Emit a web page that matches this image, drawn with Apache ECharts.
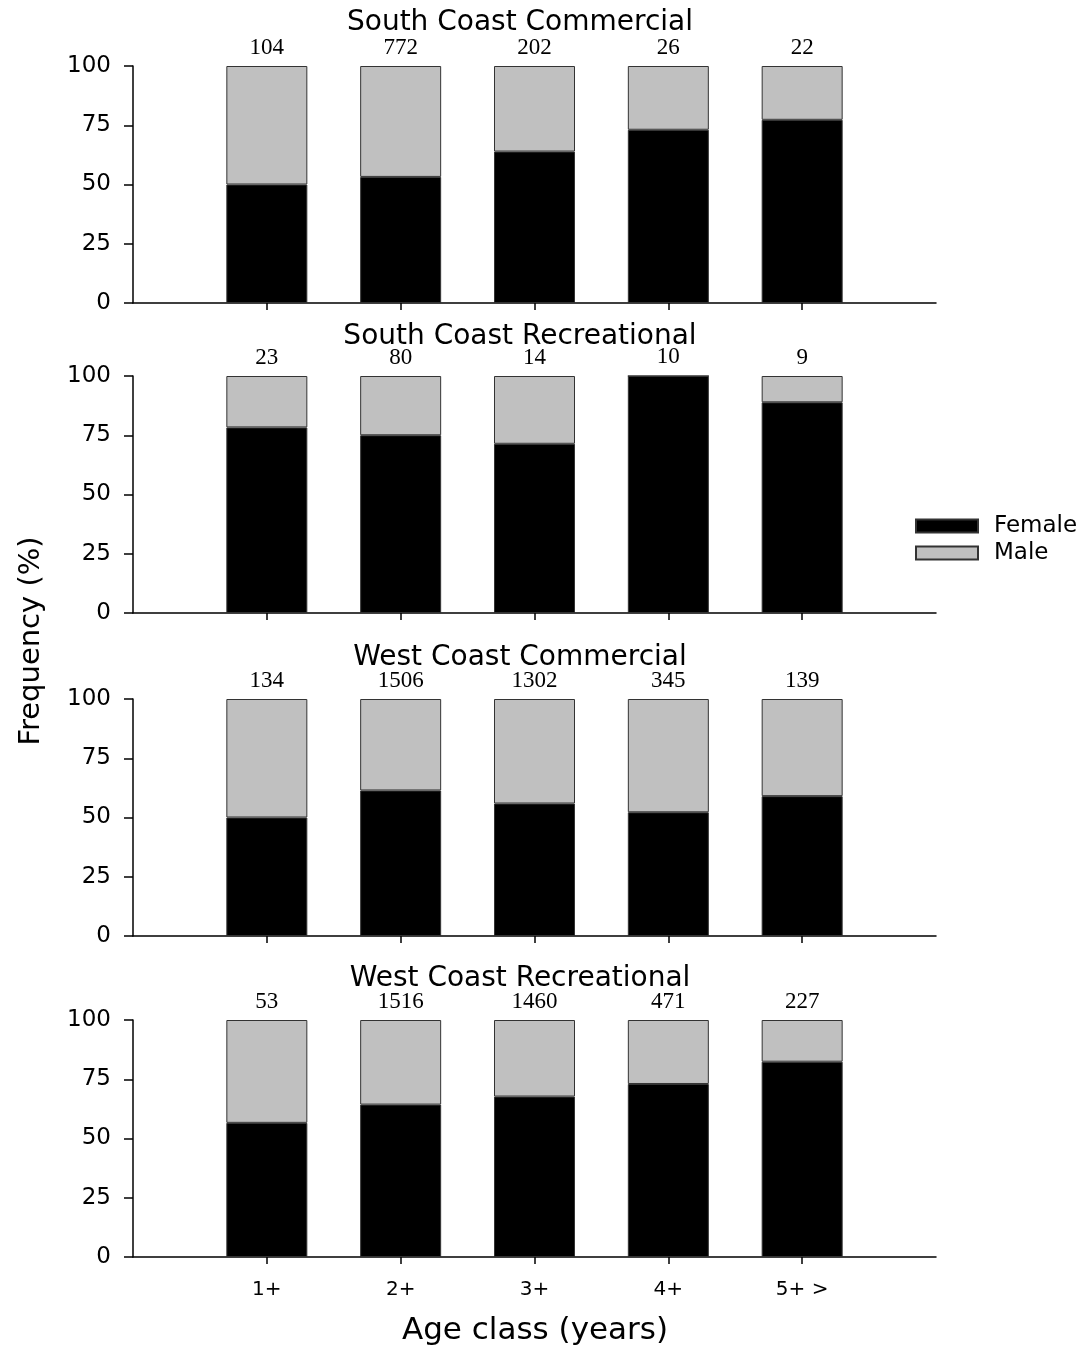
<!DOCTYPE html>
<html>
<head>
<meta charset="utf-8">
<script src="https://cdn.jsdelivr.net/npm/echarts@6/dist/echarts.min.js"></script>
<style>
  html, body { margin: 0; padding: 0; background: #fff; }
  #main { width: 1086px; height: 1351px; }
</style>
</head>
<body>
<div id="main"></div>
<script>
// age classes (x axis)
var ageClasses = ["1+", "2+", "3+", "4+", "5+ >"];
var yTicks = [0, 25, 50, 75, 100];

var panelTitles = [
  "South Coast Commercial",
  "South Coast Recreational",
  "West Coast Commercial",
  "West Coast Recreational"
];

// percent female / male per age class
var femaleSCC = [50.0, 53.2, 63.9, 73.1, 77.3];
var maleSCC = [50.0, 46.8, 36.1, 26.9, 22.7];
var femaleSCR = [78.3, 75.0, 71.4, 100, 88.9];
var maleSCR = [21.7, 25.0, 28.6, 0, 11.1];
var femaleWCC = [50.0, 61.4, 55.9, 52.2, 59.0];
var maleWCC = [50.0, 38.6, 44.1, 47.8, 41.0];
var femaleWCR = [56.6, 64.3, 67.7, 73.0, 82.4];
var maleWCR = [43.4, 35.7, 32.3, 27.0, 17.6];

// sample sizes printed above the bars
var countsSCC = [104, 772, 202, 26, 22];
var countsSCR = [23, 80, 14, 10, 9];
var countsWCC = [134, 1506, 1302, 345, 139];
var countsWCR = [53, 1516, 1460, 471, 227];

var femaleAll = [femaleSCC, femaleSCR, femaleWCC, femaleWCR];
var maleAll = [maleSCC, maleSCR, maleWCC, maleWCR];
var countsAll = [countsSCC, countsSCR, countsWCC, countsWCR];

var sans = "DejaVu Sans";
var serif = "Liberation Serif";
var gridTops = [66, 376, 699, 1020];
var titleTops = [9, 323, 644, 965];

// empty slot on both ends, like the original axis
var xData = [""].concat(ageClasses).concat([""]);
function pad(arr) {
  return [null].concat(arr).concat([null]);
}

var grids = [], xAxes = [], yAxes = [], series = [], titles = [];

for (var p = 0; p < 4; p++) {
  grids.push({ left: 133, width: 803, top: gridTops[p], height: 237 });
  titles.push({
    text: panelTitles[p],
    left: 520,
    textAlign: "center",
    top: titleTops[p],
    padding: 0,
    textStyle: { fontFamily: sans, fontSize: 28, fontWeight: "normal", color: "#000" }
  });
  xAxes.push({
    type: "category",
    gridIndex: p,
    data: xData,
    boundaryGap: false,
    axisLine: { lineStyle: { color: "#000", width: 1.5 } },
    axisTick: {
      length: 7,
      interval: function (i) { return i > 0 && i < 6; },
      lineStyle: { color: "#000", width: 1.5 }
    },
    axisLabel: {
      show: p === 3,
      margin: 23,
      interval: 0,
      fontFamily: sans,
      fontSize: 20,
      color: "#000"
    },
    splitLine: { show: false }
  });
  yAxes.push({
    type: "value",
    gridIndex: p,
    min: 0,
    max: 100,
    interval: 25,
    axisLine: { show: true, lineStyle: { color: "#000", width: 1.5 } },
    axisTick: { show: true, length: 9, lineStyle: { color: "#000", width: 1.5 } },
    axisLabel: { margin: 22, fontFamily: sans, fontSize: 23, color: "#000" },
    splitLine: { show: false }
  });
  series.push({
    name: "Female",
    type: "bar",
    stack: "s" + p,
    xAxisIndex: p,
    yAxisIndex: p,
    barWidth: 81,
    data: pad(femaleAll[p]),
    itemStyle: { color: "#000", borderColor: "#333", borderWidth: 1 }
  });
  series.push({
    name: "Male",
    type: "bar",
    stack: "s" + p,
    xAxisIndex: p,
    yAxisIndex: p,
    barWidth: 81,
    data: pad(maleAll[p]),
    itemStyle: { color: "#c0c0c0", borderColor: "#333", borderWidth: 1 },
    label: {
      show: true,
      position: "top",
      distance: 7,
      fontFamily: serif,
      fontSize: 23,
      color: "#000",
      formatter: (function (counts) {
        return function (prm) { return String(counts[prm.dataIndex - 1]); };
      })(countsAll[p])
    }
  });
}

var myChart = echarts.init(document.getElementById("main"));
myChart.setOption({
  animation: false,
  backgroundColor: "#fff",
  title: titles,
  legend: {
    data: ["Female", "Male"],
    orient: "vertical",
    left: 915,
    top: 514,
    padding: 0,
    itemWidth: 62,
    itemHeight: 13,
    itemGap: 3,
    icon: "rect",
    textStyle: { fontFamily: sans, fontSize: 23, lineHeight: 24, color: "#000", padding: [0, 0, 0, 11] }
  },
  grid: grids,
  xAxis: xAxes,
  yAxis: yAxes,
  series: series,
  graphic: [
    {
      type: "text",
      x: 31,
      y: 641,
      rotation: Math.PI / 2,
      style: {
        text: "Frequency (%)",
        font: "29px 'DejaVu Sans'",
        fill: "#000",
        align: "center",
        verticalAlign: "middle"
      }
    },
    {
      type: "text",
      x: 535,
      y: 1331,
      style: {
        text: "Age class (years)",
        font: "31px 'DejaVu Sans'",
        fill: "#000",
        align: "center",
        verticalAlign: "middle"
      }
    }
  ]
});
</script>
</body>
</html>
